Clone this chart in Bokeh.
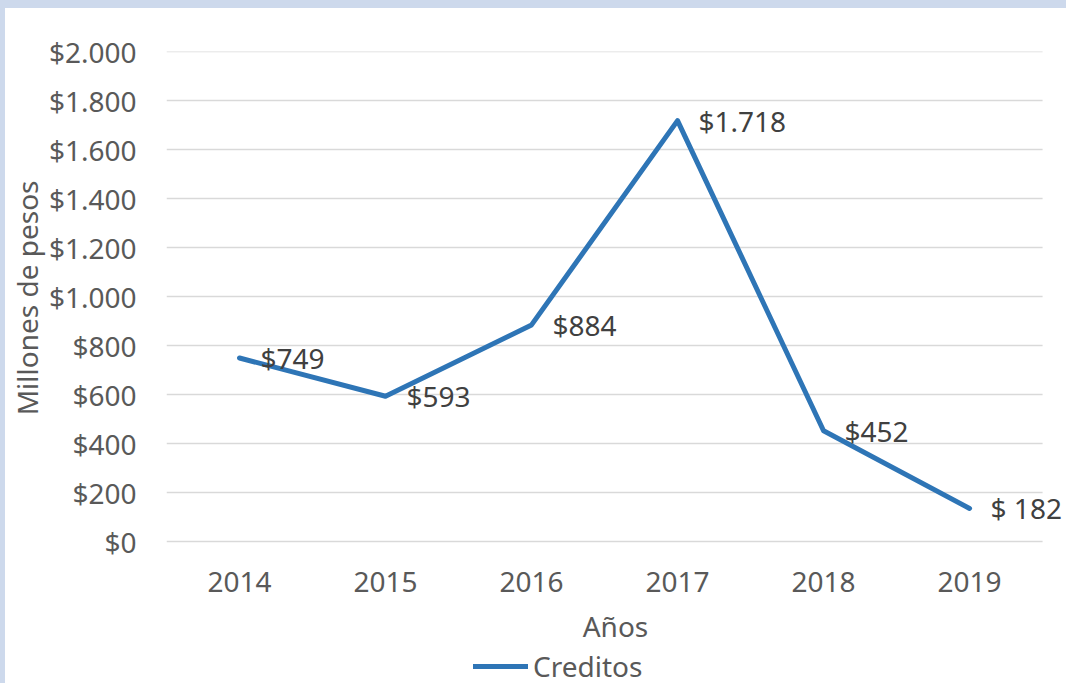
from bokeh.plotting import figure
from bokeh.models import Range1d, FixedTicker, Legend, LegendItem, ColumnDataSource, Title
from bokeh.embed import file_html
from bokeh.resources import INLINE
from bokeh.core.properties import value

years = ["2014", "2015", "2016", "2017", "2018", "2019"]
creditos = [749, 593, 884, 1718, 452, 135]
data_labels = ["$749", "$593", "$884", "$1.718", "$452", "$ 182"]
y_ticks = [0, 200, 400, 600, 800, 1000, 1200, 1400, 1600, 1800, 2000]
y_tick_labels = ["$0", "$200", "$400", "$600", "$800", "$1.000", "$1.200",
                 "$1.400", "$1.600", "$1.800", "$2.000"]

FONT = "Noto Sans"
GRAY = "#595959"
BLUE = "#2e75b6"
STRIP = "#cdd9ec"

W, H = 1066, 683
LEFT, TOP, RIGHT = 158, 43, 7
PLOT_H = 490          # pixel height of the 0..2000 band
BELOW = 150           # pixels of frame kept below the zero line (axis + legend area)
CAT_W = 146.5         # pixel width of one category

xs = list(range(len(years)))
n = len(years)
y_max = y_ticks[-1]
y_min = -y_max * BELOW / PLOT_H
x_extra = ((W - LEFT - RIGHT) / CAT_W) - n

p = figure(width=W, height=H, output_backend="svg", toolbar_location=None,
           x_range=Range1d(-0.5, n - 0.5 + x_extra),
           y_range=Range1d(y_min, y_max),
           min_border_left=LEFT, min_border_right=RIGHT, min_border_top=TOP, min_border_bottom=0)
p.outline_line_color = None
p.background_fill_color = "white"
p.border_fill_color = "white"
p.styles = {"border-top": "8px solid " + STRIP, "border-left": "5px solid " + STRIP}

# horizontal gridlines spanning only the category band
p.segment(x0=[-0.5] * len(y_ticks), x1=[n - 0.5] * len(y_ticks), y0=y_ticks, y1=y_ticks,
          line_color="#d9d9d9", line_width=1.5)

src = ColumnDataSource(dict(x=xs, y=creditos, lab=data_labels))
r = p.line("x", "y", source=src, line_color=BLUE, line_width=5, line_cap="round", line_join="round")
p.text("x", "y", text="lab", source=src, x_offset=21, text_align="left", text_baseline="middle",
       text_font=value(FONT), text_font_size="28px", text_color="#404040")

p.xaxis.ticker = FixedTicker(ticks=xs)
p.xaxis.major_label_overrides = {x: y for x, y in zip(xs, years)}
p.xaxis.fixed_location = 0
p.yaxis.ticker = FixedTicker(ticks=y_ticks)
p.yaxis.major_label_overrides = {t: l for t, l in zip(y_ticks, y_tick_labels)}
for ax in (p.xaxis[0], p.yaxis[0]):
    ax.axis_line_color = None
    ax.major_tick_line_color = None
    ax.minor_tick_line_color = None
    ax.major_tick_out = 0
    ax.major_tick_in = 0
    ax.major_label_text_font = FONT
    ax.major_label_text_font_size = "28px"
    ax.major_label_text_color = GRAY
    ax.axis_label_text_font = FONT
    ax.axis_label_text_font_size = "28px"
    ax.axis_label_text_color = GRAY
    ax.axis_label_text_font_style = "normal"

p.yaxis.major_label_standoff = 30
p.xaxis.major_label_standoff = 30
p.xaxis.axis_label = "Años"
p.xaxis.axis_label_standoff = 12

# vertical axis title, placed beside the y tick labels
ytitle = Title(text="Millones de pesos", align="right", vertical_align="bottom", offset=129,
               standoff=0, text_font=FONT, text_font_size="28px", text_color=GRAY,
               text_font_style="normal")
p.add_layout(ytitle, "left")

p.xgrid.grid_line_color = None
p.ygrid.grid_line_color = None

legend = Legend(items=[LegendItem(label="Creditos", renderers=[r])],
                location=(307, 6), orientation="horizontal",
                border_line_color=None, background_fill_alpha=0,
                padding=0, margin=0, glyph_width=55, glyph_height=30, label_height=30,
                label_standoff=5, label_text_font=FONT, label_text_font_size="28px",
                label_text_color=GRAY)
p.add_layout(legend)

open("out.html", "w").write(file_html(p, INLINE))
